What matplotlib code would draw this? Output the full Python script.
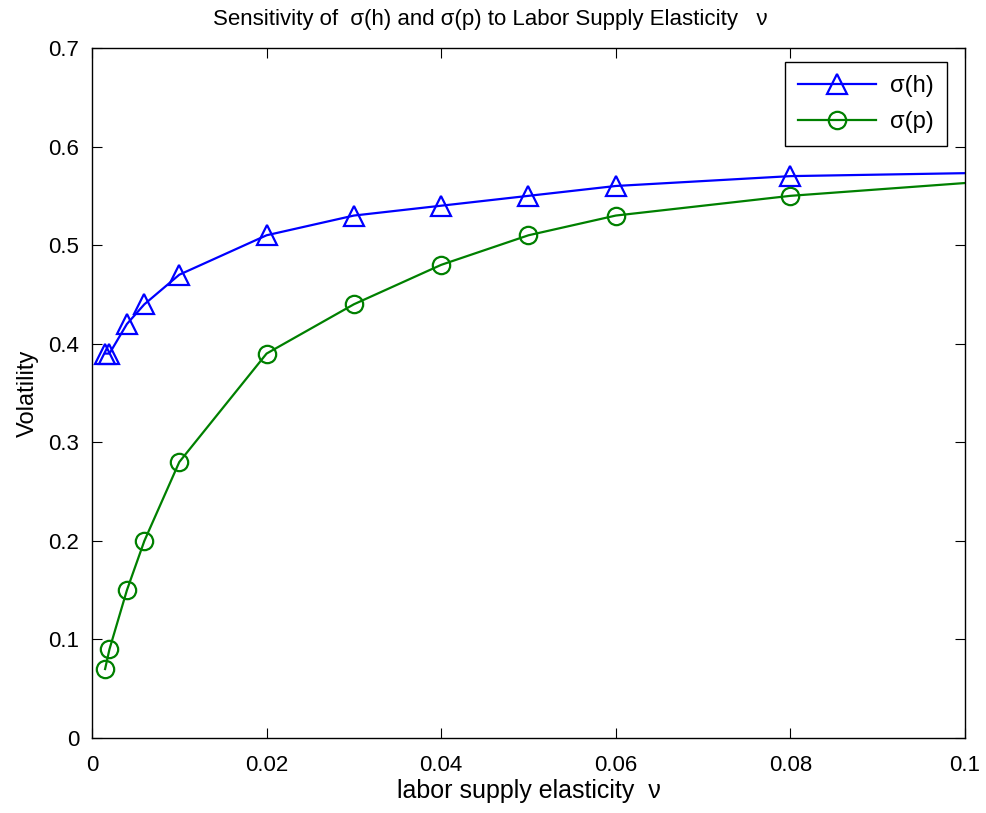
import matplotlib
matplotlib.use("Agg")
import matplotlib.pyplot as plt

plt.rcParams['font.family'] = ['Liberation Sans', 'DejaVu Sans']

nu = [0.0015, 0.002, 0.004, 0.006, 0.01, 0.02, 0.03, 0.04, 0.05, 0.06, 0.08, 0.12]
sigma_h = [0.39, 0.39, 0.42, 0.44, 0.47, 0.51, 0.53, 0.54, 0.55, 0.56, 0.57, 0.576]
sigma_p = [0.07, 0.09, 0.15, 0.20, 0.28, 0.39, 0.44, 0.48, 0.51, 0.53, 0.55, 0.576]
xticks = [0, 0.02, 0.04, 0.06, 0.08, 0.1]
xticklabels = ['0', '0.02', '0.04', '0.06', '0.08', '0.1']
yticks = [0, 0.1, 0.2, 0.3, 0.4, 0.5, 0.6, 0.7]
yticklabels = ['0', '0.1', '0.2', '0.3', '0.4', '0.5', '0.6', '0.7']

fig = plt.figure(figsize=(9.87, 8.13), dpi=100)
ax = fig.add_axes([0.0932, 0.0922, 0.8845, 0.8488])

ax.plot(nu, sigma_h, color='#0000ff', lw=1.6, marker='^', ms=14, mfc='none',
        mew=1.6, label='σ(h)', markevery=list(range(len(nu) - 1)))
ax.plot(nu, sigma_p, color='#008000', lw=1.6, marker='o', ms=12.5, mfc='none',
        mew=1.6, label='σ(p)', markevery=list(range(len(nu) - 1)))

ax.set_xlim(0, 0.1)
ax.set_ylim(0, 0.7)
ax.set_xticks(xticks)
ax.set_xticklabels(xticklabels)
ax.set_yticks(yticks)
ax.set_yticklabels(yticklabels)
ax.tick_params(direction='in', length=7, width=0.8, labelsize=16, top=True, right=True)
ax.tick_params(axis='x', pad=12.5)
ax.tick_params(axis='y', pad=9)
for s in ax.spines.values():
    s.set_linewidth(1.0)

fig.text(490 / 987, 1 - 20 / 813, 'Sensitivity of  σ(h) and σ(p) to Labor Supply Elasticity   ν',
         fontsize=16, ha='center', va='center')
ax.set_xlabel('labor supply elasticity  ν', fontsize=18, labelpad=2)
ax.set_ylabel('Volatility', fontsize=17, labelpad=7)

leg = ax.legend(loc='upper right', fontsize=17, fancybox=False, edgecolor='black',
                framealpha=1, borderpad=0.55, handlelength=3.3, labelspacing=0.6,
                handletextpad=0.6, borderaxespad=0, bbox_to_anchor=(0.9794, 0.9797))
leg.get_frame().set_linewidth(1.0)

fig.savefig('out.png', dpi=100)
